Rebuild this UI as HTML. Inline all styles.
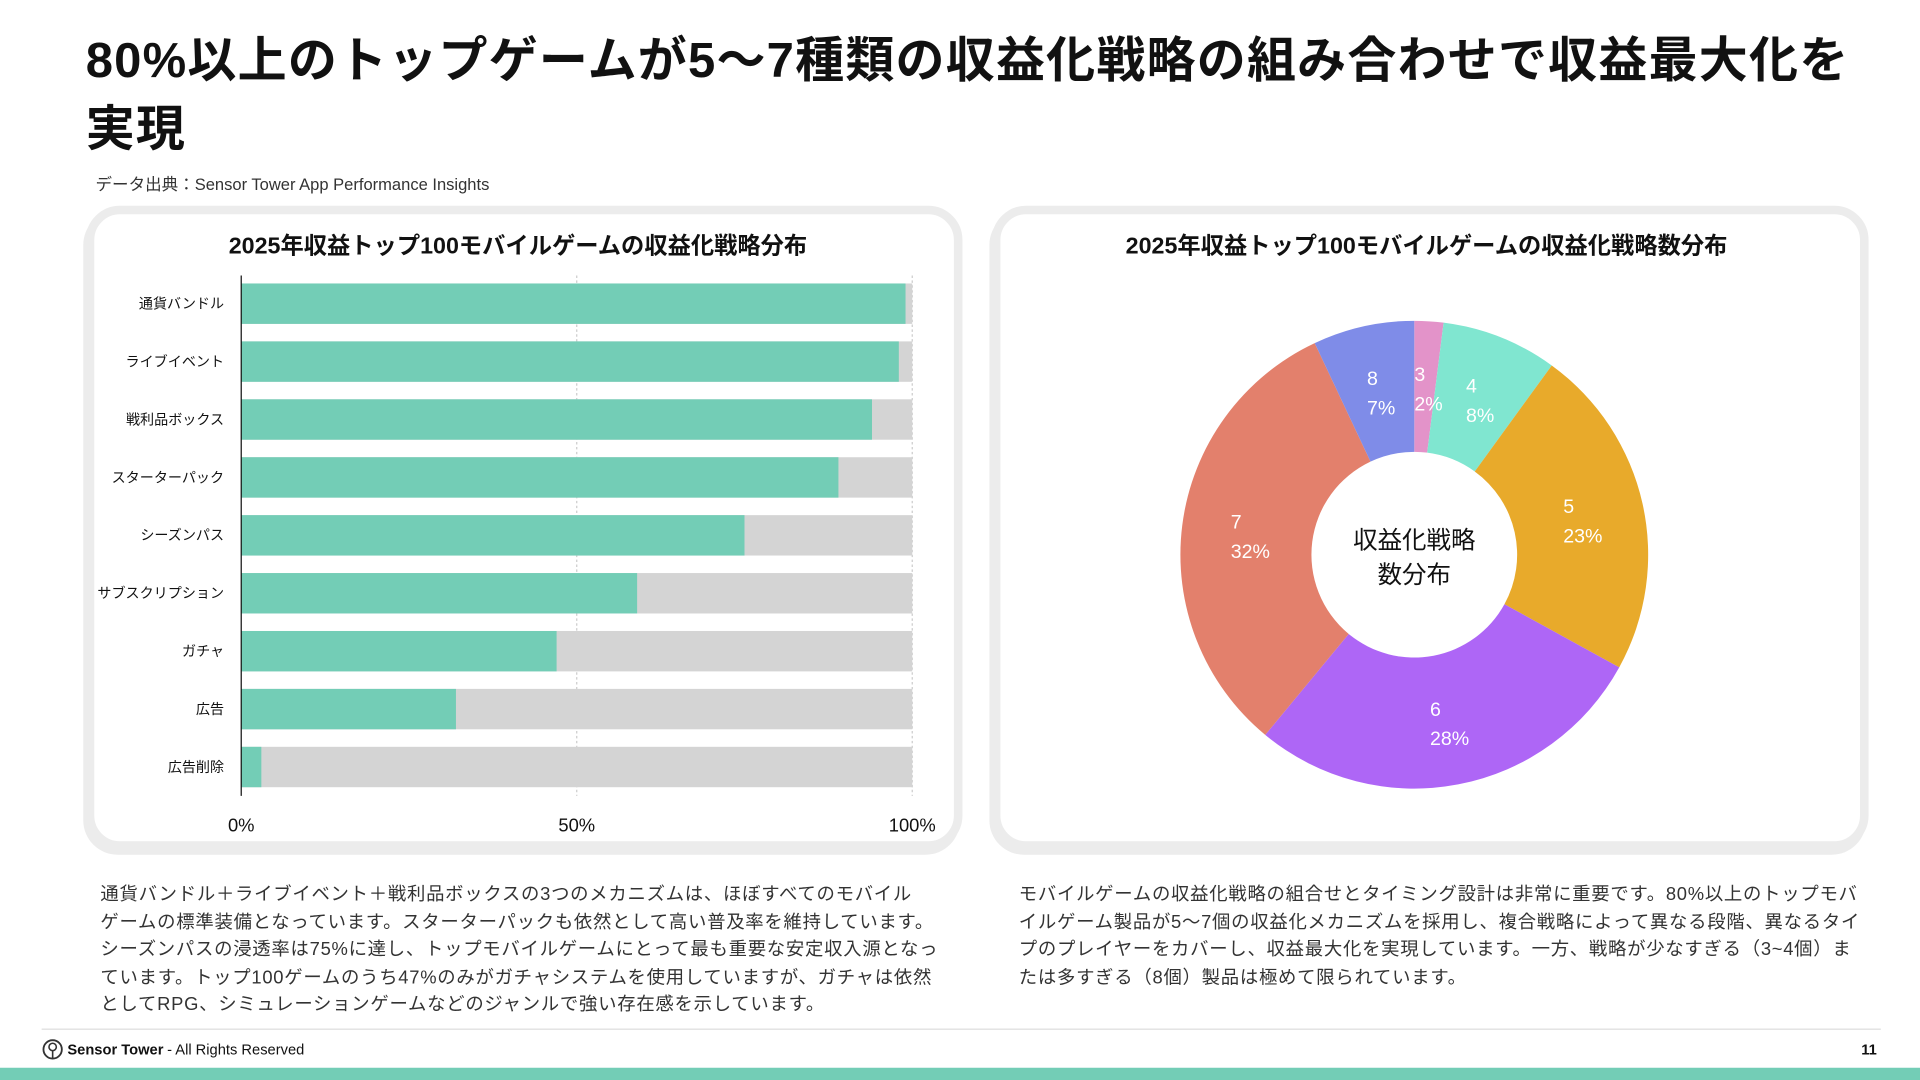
<!DOCTYPE html>
<html><head><meta charset="utf-8">
<style>
html,body{margin:0;padding:0;background:#fff;width:1920px;height:1080px;overflow:hidden}
#wrap{position:absolute;left:0;top:0;width:1568px;height:882px;transform:scale(1.22449);transform-origin:0 0;font-family:"Liberation Sans","Noto Sans CJK JP",sans-serif;color:#111}
.abs{position:absolute}
h1{position:absolute;left:70px;top:22px;margin:0;width:1460px;font-size:40px;line-height:56px;font-weight:700;letter-spacing:1px}
.panel{position:absolute;top:168px;width:702px;height:512px;border:7px solid #ececec;border-radius:28px;background:#fff;box-shadow:-2px 4px 0 #ececec}
.ptitle{position:absolute;top:186px;font-size:19px;font-weight:700;text-align:center;width:706px}
.para{position:absolute;top:720px;font-size:15px;line-height:22.5px;color:#333;letter-spacing:0.6px;white-space:nowrap}
</style></head><body>
<div id="wrap">
<h1>80%以上のトップゲームが5～7種類の収益化戦略の組み合わせで収益最大化を<br>実現</h1>
<div class="abs" style="left:78px;top:139px;font-size:13.5px;color:#333">データ出典：Sensor Tower App Performance Insights</div>

<div class="panel" style="left:70px"></div>
<div class="panel" style="left:810px"></div>
<div class="ptitle" style="left:70px">2025年収益トップ100モバイルゲームの収益化戦略分布</div>
<div class="ptitle" style="left:812px">2025年収益トップ100モバイルゲームの収益化戦略数分布</div>

<svg class="abs" style="left:0;top:0" width="1568" height="882" id="charts"></svg>

<div class="para" style="left:82px">通貨バンドル＋ライブイベント＋戦利品ボックスの3つのメカニズムは、ほぼすべてのモバイル<br>ゲームの標準装備となっています。スターターパックも依然として高い普及率を維持しています。<br>シーズンパスの浸透率は75%に達し、トップモバイルゲームにとって最も重要な安定収入源となっ<br>ています。トップ100ゲームのうち47%のみがガチャシステムを使用していますが、ガチャは依然<br>としてRPG、シミュレーションゲームなどのジャンルで強い存在感を示しています。</div>
<div class="para" style="left:832px">モバイルゲームの収益化戦略の組合せとタイミング設計は非常に重要です。80%以上のトップモバ<br>イルゲーム製品が5～7個の収益化メカニズムを採用し、複合戦略によって異なる段階、異なるタイ<br>プのプレイヤーをカバーし、収益最大化を実現しています。一方、戦略が少なすぎる（3~4個）ま<br>たは多すぎる（8個）製品は極めて限られています。</div>

<div class="abs" style="left:34px;top:840px;width:1502px;height:1px;background:#ddd"></div>
<div class="abs" style="left:34px;top:848px;font-size:12px;font-weight:700;display:flex;align-items:center"><svg width="18" height="18" viewBox="0 0 18 18"><circle cx="9" cy="9" r="7.5" fill="none" stroke="#333" stroke-width="1.5"/><circle cx="9" cy="7" r="3" fill="none" stroke="#333" stroke-width="1.3"/><line x1="9" y1="10" x2="9" y2="16" stroke="#333" stroke-width="1.3"/></svg><span style="margin-left:3px">Sensor Tower</span><span style="font-weight:400;margin-left:3px">- All Rights Reserved</span></div>
<div class="abs" style="left:1520px;top:850px;font-size:12px;font-weight:700">11</div>
<div class="abs" style="left:0;top:872px;width:1568px;height:10px;background:#73cdb6"></div>
</div>
<script>
const categories=["通貨バンドル","ライブイベント","戦利品ボックス","スターターパック","シーズンパス","サブスクリプション","ガチャ","広告","広告削除"];
const adoption=[99,98,94,89,75,59,47,32,3];
const xTicks=[0,50,100];
const xTickLabels=["0%","50%","100%"];
const donutCounts=["3","4","5","6","7","8"];
const donutShares=[2,8,23,28,32,7];
const donutColors=["#e393c9","#80e6d0","#e8aa2b","#ae66f6","#e3806c","#7f8ce8"];

const NS="http://www.w3.org/2000/svg";
const svg=document.getElementById('charts');
function mk(t,a){const e=document.createElementNS(NS,t);for(const k in a)e.setAttribute(k,a[k]);svg.appendChild(e);return e;}

const x0=197,x1=745,yTop=225,rowH=47.3,barH=33;
const xs=v=>x0+(x1-x0)*v/100;
const yc=i=>248+i*rowH;
xTicks.forEach((t,i)=>{
  if(t>0){const g=mk('line',{x1:xs(t),x2:xs(t),y1:yTop,y2:650,stroke:'#ccc','stroke-dasharray':'2,2'});
  }
  const l=mk('text',{x:xs(t),y:679,'text-anchor':'middle','font-size':15,fill:'#111'});l.textContent=xTickLabels[i];
  
});
categories.forEach((c,i)=>{
  const bg=mk('rect',{x:x0,y:yc(i)-barH/2,width:xs(100)-x0,height:barH,fill:'#d4d4d4'});
  
  const b=mk('rect',{x:x0,y:yc(i)-barH/2,width:xs(adoption[i])-x0,height:barH,fill:'#73cdb6'});
  
  const t=mk('text',{x:183,y:yc(i)+4,'text-anchor':'end','font-size':11.5,fill:'#111'});t.textContent=c;
  
});
const ax=mk('line',{x1:x0,x2:x0,y1:yTop,y2:650,stroke:'#111','stroke-width':1});


const cx=1155,cy=453,R=191,r=84;
const total=donutShares.reduce((a,b)=>a+b,0);
let acc=0;
const pt=(ang,rad)=>[cx+rad*Math.sin(ang),cy-rad*Math.cos(ang)];
donutShares.forEach((v,i)=>{
  const a0=acc/total*2*Math.PI;acc+=v;const a1=acc/total*2*Math.PI;
  const lg=(a1-a0)>Math.PI?1:0;
  const [ax0,ay0]=pt(a0,R),[ax1,ay1]=pt(a1,R),[bx1,by1]=pt(a1,r),[bx0,by0]=pt(a0,r);
  const p=mk('path',{d:`M${ax0},${ay0}A${R},${R} 0 ${lg} 1 ${ax1},${ay1}L${bx1},${by1}A${r},${r} 0 ${lg} 0 ${bx0},${by0}Z`,fill:donutColors[i]});
  
});
acc=0;
donutShares.forEach((v,i)=>{
  const a0=acc/total*2*Math.PI;acc+=v;const a1=acc/total*2*Math.PI;
  const am=(a0+a1)/2;const [lx,ly]=pt(am,138);
  const t2=mk('text',{x:lx+3,y:ly+20,'text-anchor':'middle','font-size':16,fill:'#fff'});t2.textContent=v+'%';
  
  const w=t2.getComputedTextLength();
  const t=mk('text',{x:lx+3-w/2,y:ly-4,'font-size':16,fill:'#fff'});t.textContent=donutCounts[i];
  
});
const c1=mk('text',{x:cx,y:448,'text-anchor':'middle','font-size':20,fill:'#111'});c1.textContent='収益化戦略';

const c2=mk('text',{x:cx,y:476,'text-anchor':'middle','font-size':20,fill:'#111'});c2.textContent='数分布';

</script>
</body></html>
